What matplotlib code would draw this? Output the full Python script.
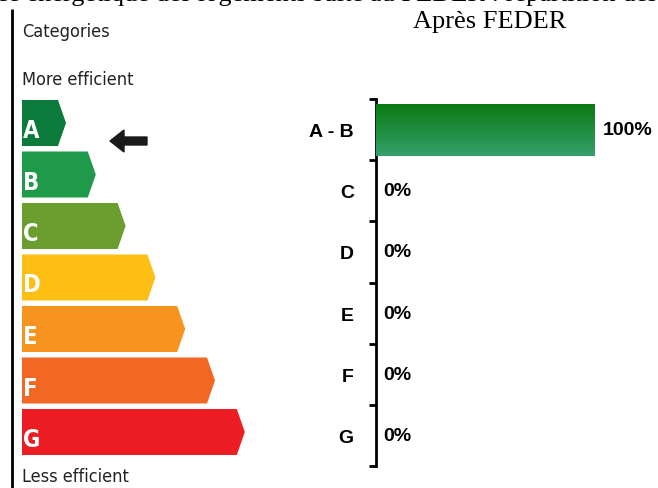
import matplotlib
matplotlib.use("Agg")
import matplotlib.pyplot as plt
import numpy as np
from matplotlib.patches import Polygon, FancyArrow
from matplotlib.colors import LinearSegmentedColormap

# ---- data ----
categories = ["A - B", "C", "D", "E", "F", "G"]
values = [100, 0, 0, 0, 0, 0]
value_labels = ["100%", "0%", "0%", "0%", "0%", "0%"]
title = "Après FEDER"
top_text = "Performance énergétique des logements suite au FEDER : répartition des logements"

label_letters = ["A", "B", "C", "D", "E", "F", "G"]
label_colors = ["#0b7a3b", "#1f9a4a", "#6b9d2f", "#fdbf14", "#f7931f", "#f26723", "#ec1c24"]

W, H = 658, 489
fig = plt.figure(figsize=(W / 100, H / 100), dpi=100)

# ---- left decorative energy label (pixel coordinates) ----
bg = fig.add_axes([0, 0, 1, 1])
bg.set_xlim(0, W)
bg.set_ylim(H, 0)
bg.axis("off")

narrow = dict(family="DejaVu Sans", fontstretch="condensed")
bg.plot([12, 12], [10, H], color="black", lw=2, solid_capstyle="butt")
bg.text(22, 32, "Categories", fontsize=13, color="#222222", va="center", ha="left", **narrow)
bg.text(22, 80, "More efficient", fontsize=13, color="#222222", va="center", ha="left", **narrow)
bg.text(22, 477, "Less efficient", fontsize=13, color="#222222", va="center", ha="left", **narrow)

x0 = 22
top0 = 101
step = 51.5
bh = 46
for i, (lt, col) in enumerate(zip(label_letters, label_colors)):
    y1 = top0 + i * step
    y2 = y1 + bh
    xr = 58 + i * 29.8
    tip = xr + 8
    poly = Polygon([[x0, y1], [xr, y1], [tip, (y1 + y2) / 2], [xr, y2], [x0, y2]],
                   closed=True, facecolor=col, edgecolor="none")
    bg.add_patch(poly)
    bg.text(x0 + 1, y2 - 4, lt, fontsize=17, fontweight="bold",
            color="white", va="bottom", ha="left", **narrow)

# black arrow pointing at A
bg.add_patch(FancyArrow(147, 142, -37, 0, width=8, head_width=22, head_length=14,
                        length_includes_head=True, color="#1a1a1a"))

# clipped top text (cut off at the top edge as in the reference)
bg.text(W / 2, 1.5, top_text, fontsize=19, family=["Liberation Serif", "DejaVu Serif"],
        ha="center", va="baseline", color="black")

# title
fig.text(490 / W, 1 - 22 / H, title, fontsize=19, family=["Liberation Serif", "DejaVu Serif"],
         ha="center", va="center")

# ---- bar chart ----
ax_left, ax_right = 376, 640
ax_top, ax_bot = 100, 467
ax = fig.add_axes([ax_left / W, 1 - ax_bot / H, (ax_right - ax_left) / W, (ax_bot - ax_top) / H])
n = len(categories)
ypos = np.arange(n)
bars = ax.barh(ypos, values, height=0.85, color="#1f8a3a", edgecolor="none", zorder=2)

grad = np.linspace(0, 1, 256).reshape(-1, 1)
cmap = LinearSegmentedColormap.from_list("g", ["#0a7a12", "#35a06c"])
for b in bars:
    if b.get_width() > 0:
        x, y = b.get_x(), b.get_y()
        w, h = b.get_width(), b.get_height()
        im = ax.imshow(grad, cmap=cmap, aspect="auto", extent=(x, x + w, y + h, y),
                       origin="upper", zorder=3)
        im.set_clip_path(b)
ax.set_ylim(n - 0.5, -0.5)
ax.set_xlim(0, 100 * (ax_right - ax_left) / 219)

bold_sans = ["Liberation Sans", "DejaVu Sans"]
for i, (v, lab) in enumerate(zip(values, value_labels)):
    ax.text(v + 3.5, i, lab, fontsize=14, fontweight="bold", family=bold_sans,
            va="center", ha="left")

for s in ["top", "right", "bottom"]:
    ax.spines[s].set_visible(False)
ax.spines["left"].set_linewidth(2)
ax.set_xticks([])
ax.set_yticks(ypos)
ax.set_yticklabels(categories, fontsize=14, fontweight="bold", family=bold_sans)
ax.tick_params(axis="y", which="major", length=0, pad=16)
ax.set_yticks(np.arange(n + 1) - 0.5, minor=True)
ax.tick_params(axis="y", which="minor", length=5, width=2)

fig.savefig("out.png", dpi=100)
